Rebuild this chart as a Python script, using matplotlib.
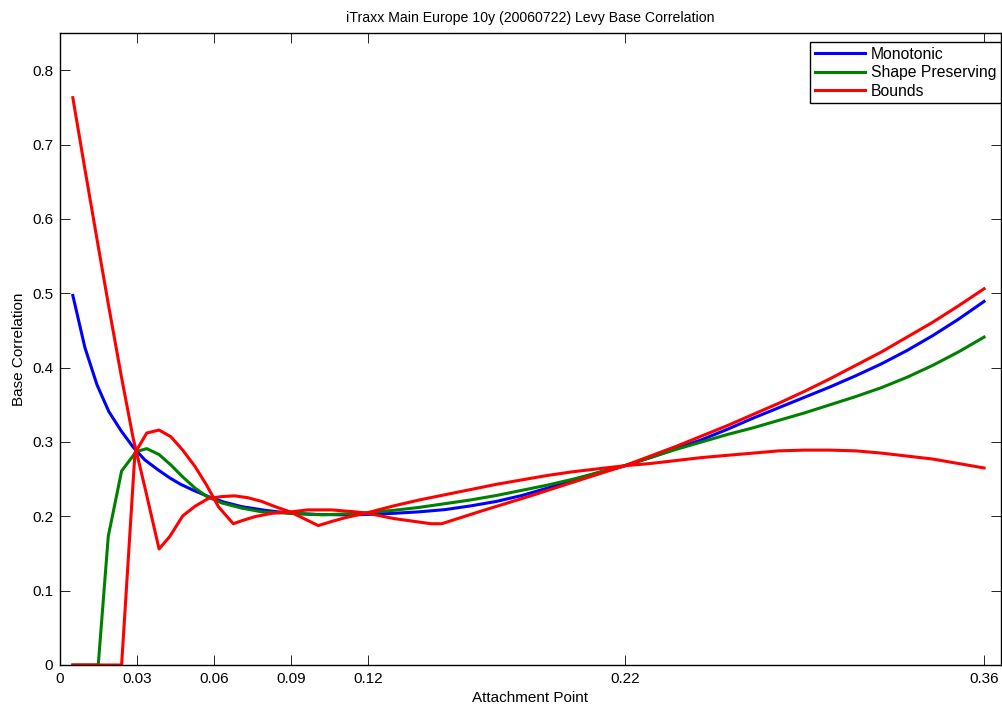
import numpy as np
import matplotlib
matplotlib.use('Agg')
import matplotlib.pyplot as plt

plt.rcParams['font.family'] = ['Liberation Sans', 'DejaVu Sans']

title = 'iTraxx Main Europe 10y (20060722) Levy Base Correlation'
x_ticks = [0, 0.03, 0.06, 0.09, 0.12, 0.22, 0.36]
x_tick_labels = ['0', '0.03', '0.06', '0.09', '0.12', '0.22', '0.36']
y_ticks = [0, 0.1, 0.2, 0.3, 0.4, 0.5, 0.6, 0.7, 0.8]
y_tick_labels = ['0', '0.1', '0.2', '0.3', '0.4', '0.5', '0.6', '0.7', '0.8']

# Monotonic
mono_x = [0.005, 0.0097, 0.0144, 0.019, 0.0238, 0.0285, 0.033, 0.038, 0.0426, 0.047,
          0.052, 0.0578, 0.064, 0.0708, 0.08, 0.09, 0.1, 0.11, 0.12, 0.13, 0.14, 0.15,
          0.16, 0.17, 0.18, 0.19, 0.20, 0.21, 0.22, 0.23, 0.24, 0.25, 0.26, 0.27, 0.28,
          0.29, 0.30, 0.31, 0.32, 0.33, 0.34, 0.35, 0.36]
mono_y = [0.497, 0.427, 0.377, 0.341, 0.315, 0.293, 0.276, 0.263, 0.252, 0.243,
          0.235, 0.2265, 0.219, 0.213, 0.208, 0.204, 0.2025, 0.202, 0.2025, 0.204, 0.206, 0.209,
          0.214, 0.220, 0.228, 0.238, 0.249, 0.259, 0.268, 0.279, 0.291, 0.303, 0.317, 0.332, 0.346,
          0.360, 0.374, 0.389, 0.405, 0.423, 0.443, 0.465, 0.489]

# Shape preserving
shape_x = [0.005, 0.0097, 0.0149, 0.0188, 0.024, 0.0297, 0.0338, 0.0386, 0.0432, 0.0478,
           0.0526, 0.057, 0.063, 0.0708, 0.0786, 0.09, 0.102, 0.11, 0.12, 0.13, 0.14, 0.15,
           0.16, 0.17, 0.18, 0.19, 0.20, 0.21, 0.22, 0.23, 0.24, 0.25, 0.26, 0.27, 0.28,
           0.29, 0.30, 0.31, 0.32, 0.33, 0.34, 0.35, 0.36]
shape_y = [0, 0, 0, 0.173, 0.261, 0.287, 0.291, 0.283, 0.269, 0.253,
           0.238, 0.227, 0.218, 0.211, 0.206, 0.204, 0.202, 0.203, 0.205, 0.208, 0.212, 0.217,
           0.222, 0.228, 0.235, 0.242, 0.250, 0.259, 0.268, 0.279, 0.290, 0.300, 0.310, 0.319, 0.329,
           0.339, 0.350, 0.361, 0.373, 0.387, 0.403, 0.421, 0.441]

# Bounds (two curves)
bound_a_x = [0.005, 0.0097, 0.0144, 0.019, 0.0238, 0.0285, 0.033, 0.0386, 0.0428, 0.0478,
             0.0526, 0.0578, 0.063, 0.068, 0.0732, 0.0786, 0.0838, 0.0896, 0.095, 0.1006,
             0.1058, 0.111, 0.12, 0.13, 0.14, 0.15, 0.16, 0.17, 0.18, 0.19, 0.20, 0.21, 0.22,
             0.23, 0.24, 0.25, 0.26, 0.27, 0.28, 0.29, 0.30, 0.31, 0.32, 0.33, 0.34, 0.35, 0.36]
bound_a_y = [0.763, 0.667, 0.573, 0.482, 0.39, 0.305, 0.24, 0.156, 0.173, 0.2005,
             0.2135, 0.224, 0.2265, 0.2275, 0.225, 0.22, 0.213, 0.206, 0.197, 0.1875,
             0.193, 0.198, 0.205, 0.214, 0.222, 0.229, 0.236, 0.243, 0.249, 0.255, 0.260, 0.264, 0.268,
             0.271, 0.275, 0.279, 0.282, 0.285, 0.288, 0.289, 0.289, 0.288, 0.285, 0.281, 0.277, 0.271, 0.265]
bound_b_x = [0.005, 0.0097, 0.0144, 0.019, 0.024, 0.0292, 0.0338, 0.0386, 0.0432, 0.0478,
             0.0526, 0.0571, 0.0617, 0.0675, 0.0708, 0.076, 0.0825, 0.09, 0.0966, 0.1058,
             0.115, 0.12, 0.13, 0.1445, 0.1487, 0.165, 0.182, 0.2, 0.22,
             0.23, 0.24, 0.25, 0.26, 0.27, 0.28, 0.29, 0.30, 0.31, 0.32, 0.33, 0.34, 0.35, 0.36]
bound_b_y = [0, 0, 0, 0, 0, 0.285, 0.312, 0.316, 0.307, 0.289,
             0.267, 0.242, 0.213, 0.19, 0.194, 0.1996, 0.204, 0.206, 0.2086, 0.2086,
             0.206, 0.204, 0.197, 0.190, 0.190, 0.208, 0.226, 0.246, 0.268,
             0.281, 0.294, 0.308, 0.322, 0.337, 0.352, 0.368, 0.385, 0.403, 0.421, 0.441, 0.461, 0.483, 0.506]

fig = plt.figure(figsize=(10.02, 7.06), dpi=100)
ax = fig.add_axes([60 / 1002, 41 / 706, 941 / 1002, 632 / 706])

ax.plot(mono_x, mono_y, color=(0, 0, 1), lw=2.2, label='Monotonic')
ax.plot(shape_x, shape_y, color=(0, 0.5, 0), lw=2.2, label='Shape Preserving')
ax.plot(bound_a_x, bound_a_y, color=(1, 0, 0), lw=2.2, label='Bounds')
ax.plot(bound_b_x, bound_b_y, color=(1, 0, 0), lw=2.2)

ax.set_xlim(0, 0.3666)
ax.set_ylim(0, 0.85)
ax.set_xticks(x_ticks)
ax.set_xticklabels(x_tick_labels)
ax.set_yticks(y_ticks)
ax.set_yticklabels(y_tick_labels)
ax.tick_params(direction='in', length=7, width=0.6, top=True, right=True,
               labelsize=11, pad=5)
for s in ax.spines.values():
    s.set_linewidth(1.0)

ax.set_title(title, fontsize=10.2, pad=8)
ax.set_xlabel('Attachment Point', fontsize=11, labelpad=4)
ax.set_ylabel('Base Correlation', fontsize=11, labelpad=4)

leg = ax.legend(loc='upper right', bbox_to_anchor=(1.0, 1 - 9 / 632), borderaxespad=0,
                fontsize=11.3, fancybox=False, framealpha=1, edgecolor='black',
                handlelength=3.2, handletextpad=0.35, borderpad=0.3, labelspacing=0.22)
leg.get_frame().set_linewidth(1.0)

fig.savefig('out.png', dpi=100)
